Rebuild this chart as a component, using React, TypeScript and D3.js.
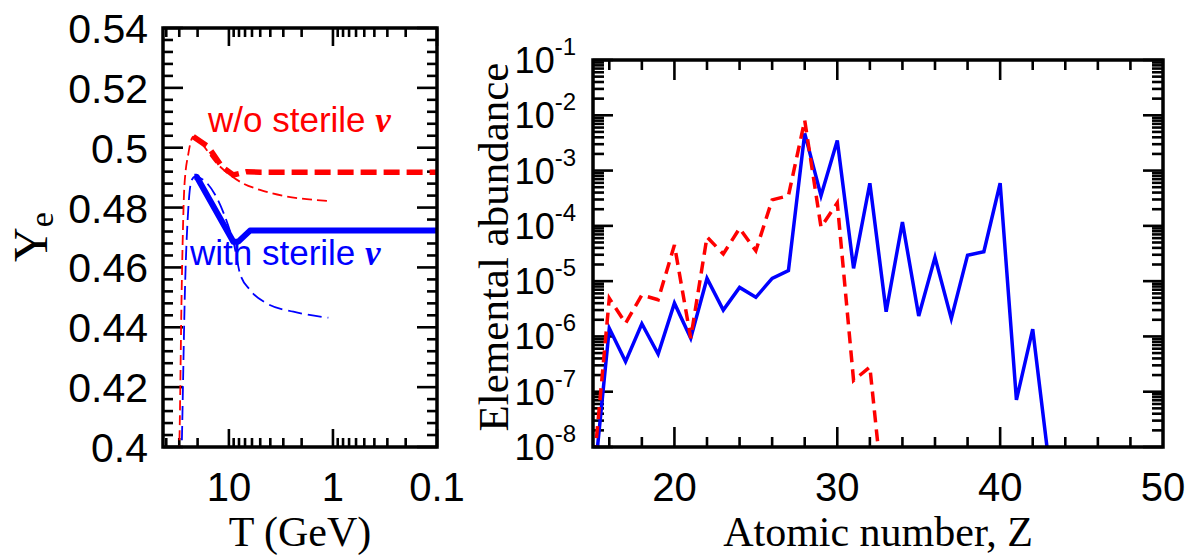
import React from "react";
import * as d3 from "d3";

// ---------- Left panel data: Ye vs T (GeV) ----------
const leftYTicks = [0.4, 0.42, 0.44, 0.46, 0.48, 0.5, 0.52, 0.54];
const leftXTicks = [10, 1, 0.1];
const leftXLabels = ["10", "1", "0.1"];
const leftXMinor = [40, 30, 20, 9, 8, 7, 6, 5, 4, 3, 2, 0.9, 0.8, 0.7, 0.6, 0.5, 0.4, 0.3, 0.2];

// [T, Ye]
const redThin: [number, number][] = [
  [30.9, 0.3923], [30.0, 0.4], [28.4, 0.4536], [26.8, 0.487], [24.5, 0.4981], [22.0, 0.5037],
  [18.5, 0.5015], [13.1, 0.4948], [9.76, 0.4909], [7.34, 0.4881], [5.02, 0.4859], [3.0, 0.4839],
  [1.785, 0.4828], [1.07, 0.4822],
];
const redThick: [number, number][] = [
  [22.0, 0.5037], [15.8, 0.5003], [11.7, 0.4937], [9.07, 0.4909], [6.74, 0.492], [5.0, 0.4918], [0.1, 0.4918],
];
const blueThick: [number, number][] = [
  [21.5, 0.4903], [20.4, 0.4903], [9.07, 0.4686], [8.12, 0.4686], [6.27, 0.4723], [0.1, 0.4723],
];
const blueThin: [number, number][] = [
  [28.9, 0.389], [28.4, 0.4], [26.4, 0.4536], [24.5, 0.4803], [22.8, 0.4892], [21.2, 0.4903],
  [9.07, 0.4686], [7.83, 0.458], [6.27, 0.4525], [4.33, 0.448], [2.4, 0.4452], [1.108, 0.4432],
];

// ---------- Right panel data: elemental abundance vs Z ----------
const zBlueStart = 15;
const abundanceWith = [
  1.5e-9, 1.4e-6, 3.5e-7, 1.7e-6, 4.8e-7, 4e-6, 9.3e-7, 1.12e-5, 3e-6, 7.7e-6, 5.1e-6, 1.12e-5,
  1.55e-5, 4.7e-3, 3.5e-4, 3.5e-3, 1.7e-5, 5.9e-4, 2.8e-6, 1.17e-4, 2.35e-6, 2.7e-5, 2.1e-6,
  2.95e-5, 3.4e-5, 5.9e-4, 7.1e-8, 1.35e-6, 5e-9,
];
const zRedStart = 15;
const abundanceWithout = [
  3e-9, 4.9e-6, 1.73e-6, 5.6e-6, 4.6e-6, 4.5e-5, 9.3e-7, 6.3e-5, 3.1e-5, 9e-5, 3.55e-5, 2.95e-4,
  3.5e-4, 8.1e-3, 9.5e-5, 2.6e-4, 1.6e-7, 2.8e-7, 4e-10,
];
const rightXLabels = [20, 30, 40, 50];
const rightXMajor = [20, 30, 40];
const rightXMinor = [16, 18, 22, 24, 26, 28, 32, 34, 36, 38, 42, 44, 46, 48];
const rightYExponents = [-8, -7, -6, -5, -4, -3, -2, -1];

const SANS = "'Liberation Sans', Arial, sans-serif";
const SERIF = "'Liberation Serif', 'Times New Roman', serif";
const RED = "#ff0000";
const BLUE = "#0000ff";

export default function App() {
  // Left panel geometry
  const L = { x0: 163, x1: 437, y0: 28, y1: 447 };
  const lx = d3.scaleLog().domain([43, 0.1]).range([L.x0, L.x1]);
  const ly = d3.scaleLinear().domain([0.4, 0.54]).range([L.y1, L.y0]);
  const lineSmooth = d3.line<[number, number]>().x((d) => lx(d[0])).y((d) => ly(d[1])).curve(d3.curveMonotoneX);
  const lineLin = d3.line<[number, number]>().x((d) => lx(d[0])).y((d) => ly(d[1]));

  // Right panel geometry
  const R = { x0: 593, x1: 1163, y0: 60, y1: 447 };
  const rx = d3.scaleLinear().domain([15, 50]).range([R.x0, R.x1]);
  const ry = d3.scaleLog().domain([1e-8, 1e-1]).range([R.y1, R.y0]);
  const zLine = d3.line<[number, number]>().x((d) => rx(d[0])).y((d) => ry(d[1]));
  const blueLine = zLine(abundanceWith.map((v, i) => [zBlueStart + i, v] as [number, number]));
  const redLine = zLine(abundanceWithout.map((v, i) => [zRedStart + i, v] as [number, number]));

  const leftYMinor: number[] = [];
  for (let i = 0; i <= 35; i++) if (i % 5 !== 0) leftYMinor.push(0.4 + i * 0.004);

  const rightYMinor: number[] = [];
  for (let e = -8; e < -1; e++) for (let m = 2; m <= 9; m++) rightYMinor.push(m * Math.pow(10, e));

  const tk = { stroke: "#000", strokeWidth: 2.6 };

  return (
    <div style={{ position: "absolute", left: 0, top: 0 }}>
      <svg width={1191} height={557} viewBox="0 0 1191 557" style={{ display: "block", background: "#fff" }}>
        <defs>
          <clipPath id="clipL">
            <rect x={L.x0} y={L.y0} width={L.x1 - L.x0} height={L.y1 - L.y0} />
          </clipPath>
          <clipPath id="clipR">
            <rect x={R.x0} y={R.y0} width={R.x1 - R.x0} height={R.y1 - R.y0} />
          </clipPath>
        </defs>

        {/* ---------------- LEFT PANEL ---------------- */}
        <g>
          {leftYTicks.map((v) => (
            <g key={"ly" + v}>
              <line x1={L.x0} x2={L.x0 + 20} y1={ly(v)} y2={ly(v)} {...tk} />
              <line x1={L.x1} x2={L.x1 - 20} y1={ly(v)} y2={ly(v)} {...tk} />
              <text x={148} y={ly(v) + 15} textAnchor="end" fontFamily={SANS} fontSize={41} fill="#000">
                {String(+v.toFixed(2))}
              </text>
            </g>
          ))}
          {leftYMinor.map((v) => (
            <g key={"lym" + v}>
              <line x1={L.x0} x2={L.x0 + 10} y1={ly(v)} y2={ly(v)} {...tk} />
              <line x1={L.x1} x2={L.x1 - 10} y1={ly(v)} y2={ly(v)} {...tk} />
            </g>
          ))}
          {leftXTicks.map((v, i) => (
            <g key={"lx" + v}>
              <line x1={lx(v)} x2={lx(v)} y1={L.y1} y2={L.y1 - 18} {...tk} />
              <line x1={lx(v)} x2={lx(v)} y1={L.y0} y2={L.y0 + 18} {...tk} />
              <text x={lx(v)} y={501} textAnchor="middle" fontFamily={SANS} fontSize={40} fill="#000">
                {leftXLabels[i]}
              </text>
            </g>
          ))}
          {leftXMinor.map((v) => (
            <g key={"lxm" + v}>
              <line x1={lx(v)} x2={lx(v)} y1={L.y1} y2={L.y1 - 9} {...tk} />
              <line x1={lx(v)} x2={lx(v)} y1={L.y0} y2={L.y0 + 9} {...tk} />
            </g>
          ))}

          <g clipPath="url(#clipL)" fill="none">
            <path d={lineSmooth(redThin) || ""} stroke={RED} strokeWidth={1.8} strokeDasharray="10,5" />
            <path d={lineSmooth(blueThin) || ""} stroke={BLUE} strokeWidth={1.8} strokeDasharray="14,6" />
            <path d={lineLin(redThick) || ""} stroke={RED} strokeWidth={5.5} strokeDasharray="16,7" />
            <path d={lineLin(blueThick) || ""} stroke={BLUE} strokeWidth={6} strokeLinejoin="round" />
          </g>

          <rect x={L.x0} y={L.y0} width={L.x1 - L.x0} height={L.y1 - L.y0} fill="none" stroke="#000" strokeWidth={3.5} />

          <text x={208} y={132} fontFamily={SANS} fontSize={35} fill={RED}>
            w/o sterile <tspan fontFamily={SERIF} fontWeight="bold" fontStyle="italic">ν</tspan>
          </text>
          <text x={190} y={265} fontFamily={SANS} fontSize={35} fill={BLUE}>
            with sterile <tspan fontFamily={SERIF} fontWeight="bold" fontStyle="italic">ν</tspan>
          </text>

          <text transform="translate(47,262) rotate(-90)" fontFamily={SERIF} fontSize={48} fill="#000">
            Y<tspan fontSize={34} dy={6}>e</tspan>
          </text>
          <text x={300} y={546} textAnchor="middle" fontFamily={SERIF} fontSize={42} fill="#000">
            T (GeV)
          </text>
        </g>

        {/* ---------------- RIGHT PANEL ---------------- */}
        <g>
          {rightYExponents.map((e) => {
            const v = Math.pow(10, e);
            return (
              <g key={"ry" + e}>
                <line x1={R.x0} x2={R.x0 + 20} y1={ry(v)} y2={ry(v)} {...tk} />
                <line x1={R.x1} x2={R.x1 - 20} y1={ry(v)} y2={ry(v)} {...tk} />
                <text x={576} y={ry(v) + 13} textAnchor="end" fontFamily={SANS} fontSize={36} fill="#000">
                  10<tspan fontSize={24} dy={-18}>{String(e)}</tspan>
                </text>
              </g>
            );
          })}
          {rightYMinor.map((v, i) => (
            <g key={"rym" + i}>
              <line x1={R.x0} x2={R.x0 + 11} y1={ry(v)} y2={ry(v)} {...tk} />
              <line x1={R.x1} x2={R.x1 - 11} y1={ry(v)} y2={ry(v)} {...tk} />
            </g>
          ))}
          {rightXMajor.map((v) => (
            <g key={"rx" + v}>
              <line x1={rx(v)} x2={rx(v)} y1={R.y1} y2={R.y1 - 20} {...tk} />
              <line x1={rx(v)} x2={rx(v)} y1={R.y0} y2={R.y0 + 20} {...tk} />
            </g>
          ))}
          {rightXMinor.map((v) => (
            <g key={"rxm" + v}>
              <line x1={rx(v)} x2={rx(v)} y1={R.y1} y2={R.y1 - 10} {...tk} />
              <line x1={rx(v)} x2={rx(v)} y1={R.y0} y2={R.y0 + 10} {...tk} />
            </g>
          ))}
          {rightXLabels.map((v) => (
            <text key={"rxl" + v} x={rx(v)} y={501} textAnchor="middle" fontFamily={SANS} fontSize={40} fill="#000">
              {v}
            </text>
          ))}

          <g clipPath="url(#clipR)" fill="none">
            <path d={blueLine || ""} stroke={BLUE} strokeWidth={3.5} strokeLinejoin="miter" />
            <path d={redLine || ""} stroke={RED} strokeWidth={3.5} strokeDasharray="12,7" />
          </g>

          <rect x={R.x0} y={R.y0} width={R.x1 - R.x0} height={R.y1 - R.y0} fill="none" stroke="#000" strokeWidth={3.5} />

          <text transform="translate(508,247) rotate(-90)" textAnchor="middle" fontFamily={SERIF} fontSize={43} fill="#000">
            Elemental abundance
          </text>
          <text x={878} y={546} textAnchor="middle" fontFamily={SERIF} fontSize={42} fill="#000">
            Atomic number, Z
          </text>
        </g>
      </svg>
    </div>
  );
}
